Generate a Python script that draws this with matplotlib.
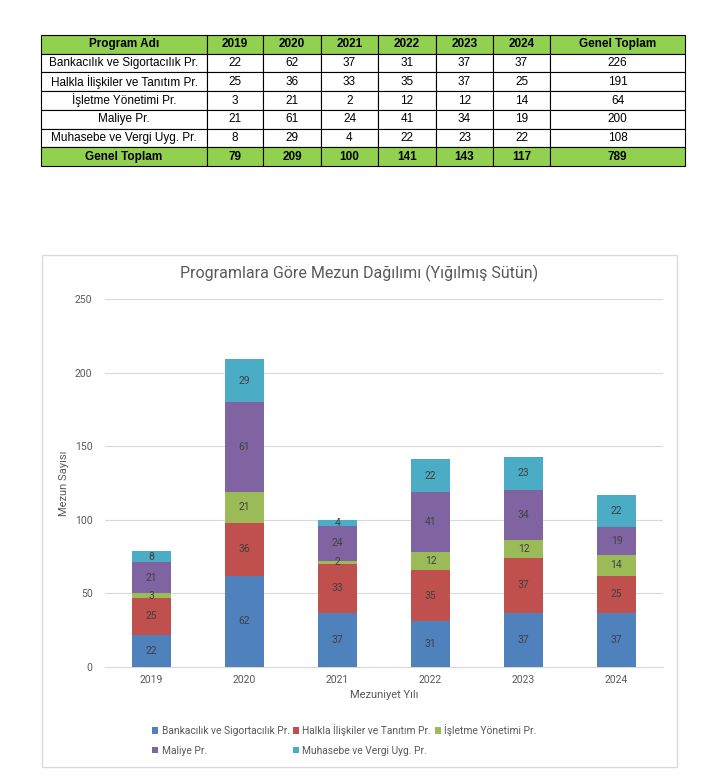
import matplotlib
matplotlib.use("Agg")
import matplotlib.pyplot as plt
from matplotlib.patches import Rectangle
import numpy as np

years = ["2019", "2020", "2021", "2022", "2023", "2024"]
programs = ["Bankacılık ve Sigortacılık Pr.", "Halkla İlişkiler ve Tanıtım Pr.",
            "İşletme Yönetimi Pr.", "Maliye Pr.", "Muhasebe ve Vergi Uyg. Pr."]
bankacilik = [22, 62, 37, 31, 37, 37]
halkla = [25, 36, 33, 35, 37, 25]
isletme = [3, 21, 2, 12, 12, 14]
maliye = [21, 61, 24, 41, 34, 19]
muhasebe = [8, 29, 4, 22, 23, 22]
series = [bankacilik, halkla, isletme, maliye, muhasebe]
colors = ["#4F81BD", "#C0504D", "#9BBB59", "#8064A2", "#4BACC6"]

W, H = 709, 782
fig = plt.figure(figsize=(W / 100, H / 100), dpi=100)

def fx(x): return x / W
def fy(y): return 1 - y / H

# ---------- Table ----------
tax = fig.add_axes([fx(41), fy(166), fx(685) - fx(41), fy(35) - fy(166)])
tax.axis("off")
col_px = [166, 56, 58, 57, 58, 57, 57, 135]
totw = sum(col_px)
header = ["Program Adı"] + years + ["Genel Toplam"]
rows = []
for name, s in zip(programs, series):
    rows.append([name] + [str(v) for v in s] + [str(sum(s))])
col_tot = [sum(v) for v in zip(*series)]
rows.append(["Genel Toplam"] + [str(v) for v in col_tot] + [str(sum(col_tot))])
all_rows = [header] + rows
nr = len(all_rows)
tfont = ["Liberation Sans Narrow", "Liberation Sans", "DejaVu Sans"]
for r, row in enumerate(all_rows):
    y0 = 1 - (r + 1) / nr
    x0 = 0
    special = (r == 0 or r == nr - 1)
    for c, txt in enumerate(row):
        w = col_px[c] / totw
        tax.add_patch(Rectangle((x0, y0), w, 1 / nr, transform=tax.transAxes,
                                facecolor="#92D050" if special else "white",
                                edgecolor="black", linewidth=0.8, clip_on=False))
        tax.text(x0 + w / 2, y0 + 0.5 / nr, txt, transform=tax.transAxes,
                 ha="center", va="center", fontsize=8.5, family=tfont,
                 fontweight="bold" if special else "normal", color="black")
        x0 += w

# ---------- Chart frame ----------
fig.patches.append(Rectangle((fx(42), fy(767)), fx(677) - fx(42), fy(255) - fy(767),
                             transform=fig.transFigure, facecolor="none",
                             edgecolor="#D9D9D9", linewidth=1.0))

cfont = ["Roboto", "DejaVu Sans"]
ax = fig.add_axes([fx(105), fy(667), fx(663) - fx(105), fy(299) - fy(667)])
ax.patch.set_alpha(0)
x = np.arange(len(years))
bottom = np.zeros(len(years))
handles = []
for name, s, col in zip(programs, series, colors):
    vals = np.array(s, dtype=float)
    b = ax.bar(x, vals, 0.41, bottom=bottom, color=col, label=name, zorder=3)
    handles.append(b)
    for xi, v, bt in zip(x, vals, bottom):
        ax.text(xi, bt + v / 2, str(int(v)), ha="center", va="center",
                fontsize=7.5, color="#404040", family=cfont, zorder=4)
    bottom += vals

ax.set_ylim(0, 250)
ax.set_xlim(-0.5, len(years) - 0.5)
ax.set_yticks([0, 50, 100, 150, 200, 250])
ax.set_xticks(x)
ax.set_xticklabels(years)
ax.yaxis.grid(True, color="#D9D9D9", linewidth=0.8, zorder=0)
ax.set_axisbelow(True)
for sp in ["top", "right", "left"]:
    ax.spines[sp].set_visible(False)
ax.spines["bottom"].set_color("#D9D9D9")
ax.tick_params(axis="both", length=0, labelsize=7.5, labelcolor="#595959")
ax.tick_params(axis="y", pad=9)
ax.tick_params(axis="x", pad=6)
for lab in ax.get_xticklabels() + ax.get_yticklabels():
    lab.set_family(cfont)
ax.set_ylabel("Mezun Sayısı", fontsize=8, color="#595959", family=cfont, labelpad=4)
ax.set_xlabel("Mezuniyet Yılı", fontsize=8, color="#595959", family=cfont, labelpad=3)

fig.text(fx(359), fy(273), "Programlara Göre Mezun Dağılımı (Yığılmış Sütün)",
         ha="center", va="center", fontsize=11.5, color="#595959", family=cfont)

order = [0, 3, 1, 4, 2]
leg = fig.legend([handles[i] for i in order], [programs[i] for i in order],
                 ncol=3, loc="center left", bbox_to_anchor=(fx(143), fy(740)),
                 frameon=False, handlelength=0.6, handleheight=0.6,
                 handletextpad=0.3, columnspacing=0.35, labelspacing=0.9,
                 prop={"family": cfont, "size": 7.4})
for t in leg.get_texts():
    t.set_color("#595959")

fig.savefig("out.png", dpi=100)
